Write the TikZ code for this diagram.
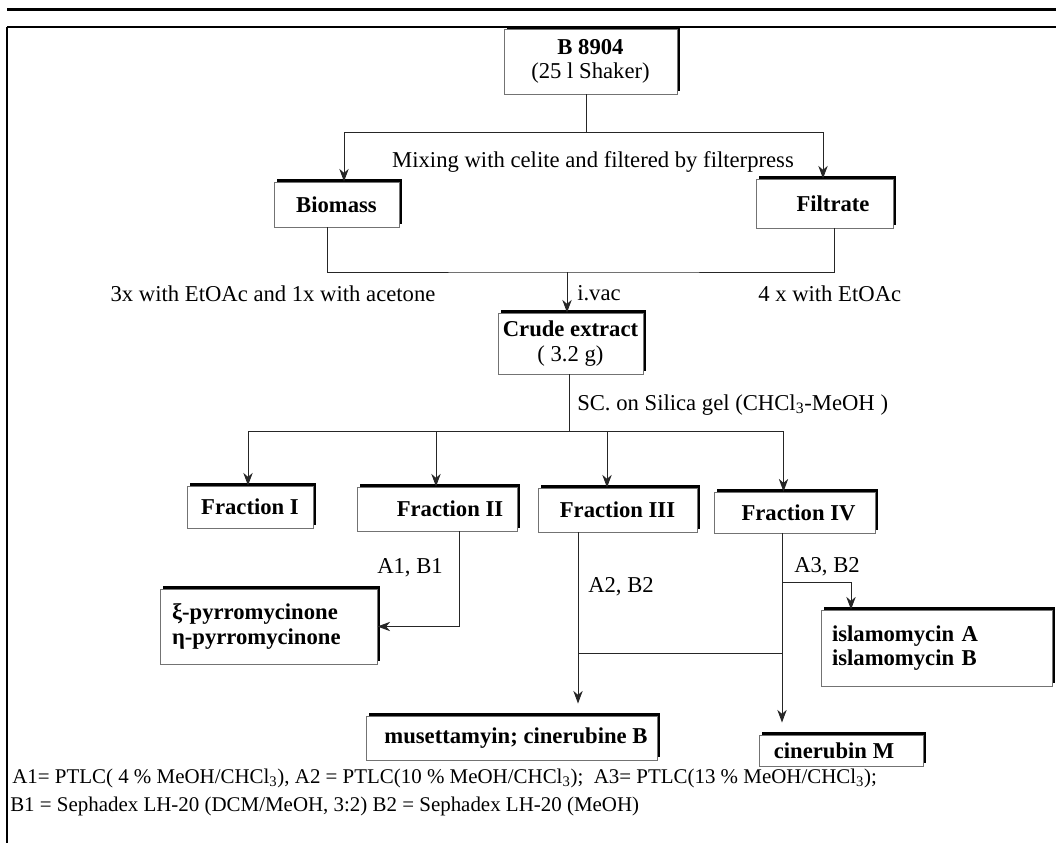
\documentclass[tikz,border=0pt]{standalone}
\usepackage{fontspec}
\setmainfont{Liberation Serif}
\usetikzlibrary{arrows.meta,shadows,calc}
\begin{document}
\begin{tikzpicture}[x=0.75pt,y=-0.75pt, font=\fontsize{17}{18}\selectfont,
  box/.style 2 args={draw=black!55, line width=0.7pt, fill=white,
    general shadow={fill=black, shadow xshift=2.4pt, shadow yshift=2.4pt},
    inner sep=0pt, minimum width=#1*0.75pt, minimum height=#2*0.75pt,
    font=\fontsize{17}{18.5}\selectfont\bfseries},
  conn/.style={line width=0.75pt, draw=black!85},
  arr/.style={conn, -{Stealth[length=9.5pt,width=7pt,inset=3pt]}},
  lbl/.style={inner sep=0pt}]
\useasboundingbox (0,0) rectangle (1056,843);
% frame
\draw[line width=2.2pt] (7,9.5) -- (1056,9.5);
\draw[line width=1.6pt] (7,27) -- (1056,27);
\draw[line width=1.2pt] (7,27) -- (7,843);
% boxes
\node[box={173}{65}, align=center] (b8904) at (590.5,61.5) {B 8904\\{\mdseries (25 l Shaker)}};
\node[box={125}{45}] (biomass) at (336.5,204.5) {Biomass};
\node[box={137}{49}] (filtrate) at (824.5,203.5) {\hspace*{12.75pt}Filtrate};
\node[box={145}{61}, align=center] (crude) at (570.5,343.5) {Crude extract\\{\mdseries ( 3.2 g)}};
\node[box={126}{42}] (frac1) at (250,507) {Fraction I};
\node[box={160}{44}] (frac2) at (437,509) {\hspace*{19.5pt}Fraction II};
\node[box={159}{44}] (frac3) at (617.5,510) {Fraction III};
\node[box={161}{41}] (frac4) at (794.5,512.5) {\hspace*{6pt}Fraction IV};
\node[box={217}{75}, text width=144.75pt, align=left] (pyrro) at (268.5,626.5) {ξ-pyrromycinone\\η-pyrromycinone};
\node[box={231}{76}, text width=156.75pt, align=left] (islam) at (936.5,648) {islamomycin A\\islamomycin B};
\node[box={291}{44}] (muset) at (511.5,738) {\hspace*{6.75pt}musettamyin; cinerubine B};
\node[box={164}{31}] (cinM) at (841,750.5) {cinerubin M\hspace*{10.5pt}};
% labels
\node[lbl] (mix) at (593,162) {Mixing with celite and filtered by filterpress};
\node[lbl] (ext1) at (273,294) {3x with EtOAc and 1x with acetone};
\node[lbl, anchor=west] (ivac) at (577,293) {i.vac};
\node[lbl, anchor=west] (ext2) at (758,294) {4 x with EtOAc};
\node[lbl, anchor=west] (sc) at (577,405) {SC. on Silica gel (CHCl\textsubscript{3}-MeOH )};
\node[lbl, anchor=east] (a1) at (443,568) {A1, B1};
\node[lbl, anchor=west] (a2) at (588,587) {A2, B2};
\node[lbl, anchor=west] (a3) at (794,567) {A3, B2};
\node[lbl, anchor=west, font=\fontsize{15.7}{18}\selectfont] (fn1) at (12,778) {A1= PTLC( 4 \% MeOH/CHCl\textsubscript{3}), A2 = PTLC(10 \% MeOH/CHCl\textsubscript{3});\ \ A3= PTLC(13 \% MeOH/CHCl\textsubscript{3});};
\node[lbl, anchor=west, font=\fontsize{15.7}{18}\selectfont] (fn2) at (10,806) {B1 = Sephadex LH-20 (DCM/MeOH, 3:2) B2 = Sephadex LH-20 (MeOH)};
% connectors
\coordinate (s1) at (586,132);
\draw[conn] (s1 |- b8904.south) -- (s1);
\coordinate (bmin) at ($(biomass.north)+(7.5,0)$);
\coordinate (ftin) at ($(filtrate.north)+(-1.5,0)$);
\draw[arr] (s1) -| (bmin);
\draw[arr] (s1) -| (ftin);
\coordinate (s2) at (567,272);
\coordinate (bmout) at ($(biomass.south)+(-9.5,0)$);
\coordinate (ftout) at ($(filtrate.south)+(9.5,0)$);
\draw[conn] (bmout) |- (s2) -| (ftout);
\draw[arr] (s2) -- (s2 |- crude.north);
\coordinate (s3) at (569,431);
\draw[conn] (s3 |- crude.south) -- (s3);
\coordinate (f1in) at ($(frac1.north)+(-2,0)$);
\coordinate (f2in) at ($(frac2.north)+(-1,0)$);
\coordinate (f3in) at ($(frac3.north)+(-10.5,0)$);
\coordinate (f4in) at ($(frac4.north)+(-11,0)$);
\draw[conn] (f1in |- s3) -- (f4in |- s3);
\foreach \ff in {f1in,f2in,f3in,f4in} \draw[arr] (\ff |- s3) -- (\ff);
\coordinate (f2out) at ($(frac2.south)+(22,0)$);
\draw[arr] (f2out) |- (pyrro.east);
\coordinate (f3out) at ($(frac3.south)+(-39.5,0)$);
\draw[arr, shorten >=9pt] (f3out) -- (f3out |- muset.north);
\coordinate (f4out) at ($(frac4.south)+(-12.5,0)$);
\draw[arr, shorten >=9pt] (f4out) -- (f4out |- cinM.north);
\coordinate (j4) at (782,582);
\coordinate (isin) at ($(islam.north)+(-85.5,0)$);
\draw[arr] (j4) -| (isin);
\coordinate (j5) at (580,653);
\draw[conn] (f3out |- j5) -- (f4out |- j5);
\end{tikzpicture}
\end{document}
